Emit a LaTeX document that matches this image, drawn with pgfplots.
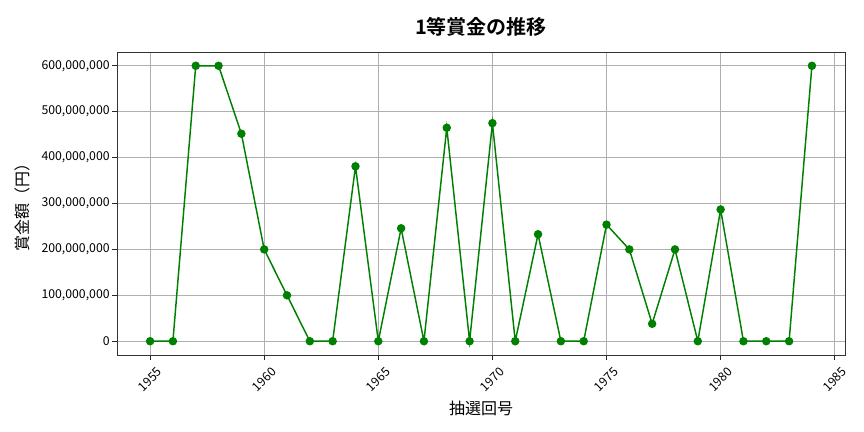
\documentclass[border=0pt]{standalone}
\usepackage{fontspec}
\setmainfont{Noto Sans CJK JP}[BoldFont={Noto Sans CJK JP Bold}]
\usepackage{pgfplots}
\pgfplotsset{compat=1.18}
\definecolor{mplgreen}{HTML}{008000}
\definecolor{gridgray}{HTML}{B0B0B0}
\begin{document}
\begin{tikzpicture}
\useasboundingbox (0,0) rectangle (648pt,324pt);
\begin{axis}[
    at={(87.75pt,57.75pt)}, anchor=south west,
    width=546pt, height=227.25pt,
    scale only axis,
    xmin=1953.55, xmax=1985.45,
    ymin=-30, ymax=630,
    xtick={1955,1960,1965,1970,1975,1980,1985},
    xticklabels={1955,1960,1965,1970,1975,1980,1985},
    ytick={0,100,200,300,400,500,600},
    yticklabels={0,{100,000,000},{200,000,000},{300,000,000},{400,000,000},{500,000,000},{600,000,000}},
    x tick label style={yshift=-15pt, rotate=45, anchor=center, font=\fontsize{9.2}{11}\selectfont},
    y tick label style={xshift=1.5pt, font=\fontsize{9.2}{11}\selectfont},
    tick align=outside, tick pos=left,
    major tick length=3.5pt,
    every tick/.style={black!85, line width=0.7pt},
    grid=major,
    major grid style={gridgray, line width=0.8pt},
    axis line style={black!80, line width=0.7pt},
    title={\fontsize{15}{17}\selectfont\bfseries 1等賞金の推移},
    title style={at={(axis description cs:0.5,1.058)}, anchor=center},
    xlabel={\fontsize{12}{14}\selectfont 抽選回号},
    xlabel style={at={(axis description cs:0.5,-0.175)}, anchor=center},
    ylabel={\fontsize{12}{14}\selectfont 賞金額（円）},
    ylabel style={at={(axis description cs:-0.1305,0.5)}, anchor=center},
]
% values in millions of yen
\addplot[mplgreen, line width=1.1pt, mark=*, mark size=2.6pt, mark options={fill=mplgreen, draw=mplgreen}]
coordinates {
(1955,0)
(1956,0)
(1957,600)
(1958,600)
(1959,452)
(1960,200)
(1961,100)
(1962,0)
(1963,0)
(1964,381)
(1965,0)
(1966,246)
(1967,0)
(1968,465)
(1969,0)
(1970,475)
(1971,0)
(1972,233)
(1973,0)
(1974,0)
(1975,254)
(1976,200)
(1977,38)
(1978,200)
(1979,0)
(1980,287)
(1981,0)
(1982,0)
(1983,0)
(1984,600)
};
\end{axis}
\end{tikzpicture}
\end{document}
